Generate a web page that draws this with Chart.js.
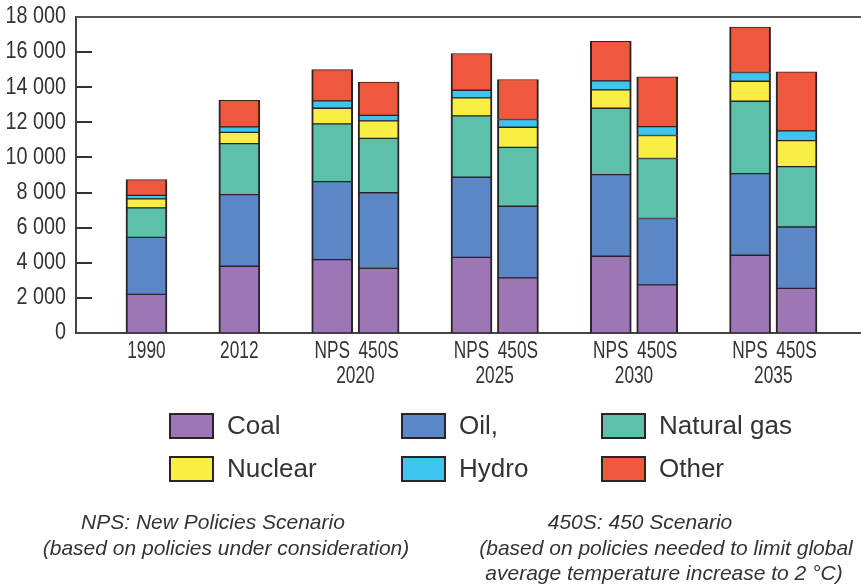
<!DOCTYPE html>
<html>
<head>
<meta charset="utf-8">
<script src="https://cdn.jsdelivr.net/npm/chart.js@4"></script>
<style>
  html, body { margin: 0; padding: 0; background: #fff; overflow: hidden; }
  #wrap { position: relative; width: 861px; height: 585px; overflow: hidden; }
  #c { position: absolute; left: 0; top: 0; }
  .lg { position: absolute; display: flex; align-items: center; font-family: 'Liberation Sans', Arial, sans-serif; font-size: 26px; color: #333; white-space: nowrap; }
  .lg .box { width: 41px; height: 22px; border: 2px solid #2b2326; margin-right: 13px; }
  .note { position: absolute; width: 700px; text-align: center; font-family: 'Liberation Sans', Arial, sans-serif; font-style: italic; font-size: 21px; color: #333; white-space: nowrap; line-height: 25px; }
</style>
</head>
<body>
<div id="wrap">
  <canvas id="c" width="861" height="585"></canvas>
</div>
<script>
// ---- data ----
const categories = ['1990', '2012', 'NPS 2020', '450S 2020', 'NPS 2025', '450S 2025', 'NPS 2030', '450S 2030', 'NPS 2035', '450S 2035'];
const seriesNames = ['Coal', 'Oil,', 'Natural gas', 'Nuclear', 'Hydro', 'Other'];
const coal    = [2200, 3800, 4180, 3680, 4310, 3140, 4370, 2740, 4430, 2540];
const oil     = [3250, 4080, 4440, 4310, 4560, 4080, 4650, 3780, 4650, 3500];
const gas     = [1680, 2910, 3290, 3100, 3500, 3350, 3780, 3420, 4120, 3440];
const nuclear = [510, 640, 890, 990, 1020, 1150, 1050, 1310, 1140, 1480];
const hydro   = [200, 310, 420, 320, 440, 440, 510, 510, 500, 550];
const other   = [900, 1520, 1780, 1900, 2090, 2280, 2260, 2830, 2580, 3360];
const yTicks  = [0, 2000, 4000, 6000, 8000, 10000, 12000, 14000, 16000, 18000];
const notesLeft  = ['NPS: New Policies Scenario', '(based on policies under consideration)'];
const notesRight = ['450S: 450 Scenario', '(based on policies needed to limit global', 'average temperature increase to 2 °C)'];

// ---- styles ----
const colors = ['#9d77b5', '#5b87c6', '#5cc0aa', '#f8ee44', '#3ec5ef', '#f0583d'];
const edge = '#2b2326';
const textColor = '#333';

// ---- a linear scale whose tick labels are drawn horizontally condensed ----
class SqueezedLinear extends Chart.LinearScale {
  drawLabels(chartArea) {
    const ctx = this.ctx;
    const k = this.options.squeeze || 1;
    const orig = ctx.rotate;
    ctx.rotate = function (a) { orig.call(this, a); this.scale(k, 1); };
    try { super.drawLabels(chartArea); } finally { ctx.rotate = orig; }
  }
}
SqueezedLinear.id = 'squeezedLinear';
Chart.register(SqueezedLinear);

// ---- derive bar positions from categories (bars of one year sit side by side) ----
const parsed = categories.map(c => {
  const p = c.split(' ');
  return { year: p[p.length - 1], scen: p.length > 1 ? p[0] : null };
});
const xPos = [];
parsed.forEach((p, i) => {
  if (i === 0) xPos.push(0);
  else xPos.push(xPos[i - 1] + (parsed[i - 1].year === p.year ? 1 : 2));
});
const tickMap = new Map();
parsed.forEach((p, i) => tickMap.set(xPos[i], p.scen ? p.scen : p.year));
const yearsSeen = {};
parsed.forEach((p, i) => {
  if (!p.scen) return;
  (yearsSeen[p.year] = yearsSeen[p.year] || []).push(xPos[i]);
});
Object.keys(yearsSeen).forEach(y => {
  const arr = yearsSeen[y];
  const mid = arr.reduce((a, b) => a + b, 0) / arr.length;
  tickMap.set(mid, ['', y]);
});
const tickValues = Array.from(tickMap.keys()).sort((a, b) => a - b);

const values = [coal, oil, gas, nuclear, hydro, other];
const datasets = seriesNames.map((name, k) => ({
  label: name,
  data: values[k].map((v, i) => ({ x: xPos[i], y: v })),
  backgroundColor: colors[k],
  borderColor: edge,
  borderWidth: { top: 1, bottom: 1, left: 2, right: 2 },
  borderSkipped: false,
  barThickness: 41
}));

const fmt = v => String(v).replace(/\B(?=(\d{3})+(?!\d))/g, ' ');
const tickFamily = "'Liberation Sans', Arial, sans-serif";

const frame = {
  id: 'frame',
  afterDraw(chart) {
    const { ctx, chartArea: a, scales } = chart;
    ctx.save();
    ctx.strokeStyle = '#555';
    ctx.lineWidth = 2;
    ctx.beginPath();
    ctx.moveTo(a.left, a.top);
    ctx.lineTo(a.right, a.top);
    ctx.stroke();
    ctx.strokeStyle = '#333';
    scales.y.ticks.forEach(t => {
      if (t.value <= scales.y.min || t.value >= scales.y.max) return;
      const py = Math.round(scales.y.getPixelForValue(t.value));
      ctx.beginPath();
      ctx.moveTo(a.left, py);
      ctx.lineTo(a.left + 16, py);
      ctx.stroke();
    });
    ctx.restore();
  }
};

const chart = new Chart(document.getElementById('c'), {
  type: 'bar',
  data: { datasets },
  options: {
    responsive: false,
    animation: false,
    layout: { padding: { top: 17, right: 0, left: 0, bottom: 0 } },
    plugins: { legend: { display: false }, tooltip: { enabled: false } },
    scales: {
      x: {
        type: 'squeezedLinear',
        squeeze: 0.72,
        offset: false,
        stacked: true,
        min: -1.518,
        max: 15.389,
        afterBuildTicks: s => { s.ticks = tickValues.map(v => ({ value: v })); },
        afterFit: s => { s.height = 252; },
        grid: { display: false, drawTicks: false },
        border: { display: true, color: '#444', width: 2 },
        ticks: {
          autoSkip: false, maxRotation: 0, minRotation: 0, padding: 6,
          color: textColor,
          font: { family: tickFamily, size: 24, lineHeight: 1.05 },
          callback: v => tickMap.get(v)
        }
      },
      y: {
        type: 'squeezedLinear',
        squeeze: 0.86,
        stacked: true,
        min: 0,
        max: 18000,
        afterBuildTicks: s => { s.ticks = yTicks.map(v => ({ value: v })); },
        afterFit: s => { s.width = 76; },
        grid: { display: false, drawTicks: true, tickLength: 10 },
        border: { display: true, color: '#444', width: 2 },
        ticks: {
          padding: 0,
          color: textColor,
          font: { family: tickFamily, size: 23 },
          callback: v => fmt(v)
        }
      }
    }
  },
  plugins: [frame]
});

// ---- HTML legend built from the chart's datasets ----
const wrap = document.getElementById('wrap');
const legCols = [169, 401, 601];
const legRows = [410, 453];
chart.data.datasets.forEach((ds, i) => {
  const d = document.createElement('div');
  d.className = 'lg';
  d.style.left = legCols[i % 3] + 'px';
  d.style.top = legRows[Math.floor(i / 3)] + 'px';
  const b = document.createElement('div');
  b.className = 'box';
  b.style.background = ds.backgroundColor;
  const t = document.createElement('span');
  t.textContent = ds.label;
  d.appendChild(b);
  d.appendChild(t);
  wrap.appendChild(d);
});

// ---- footnotes ----
function addNote(text, cx, top) {
  const d = document.createElement('div');
  d.className = 'note';
  d.textContent = text;
  d.style.left = (cx - 350) + 'px';
  d.style.top = top + 'px';
  wrap.appendChild(d);
}
const leftCenters = [213, 226];
const rightCenters = [640, 666, 664];
notesLeft.forEach((t, i) => addNote(t, leftCenters[i], 509 + i * 25.5));
notesRight.forEach((t, i) => addNote(t, rightCenters[i], 509 + i * 25.5));
</script>
</body>
</html>
